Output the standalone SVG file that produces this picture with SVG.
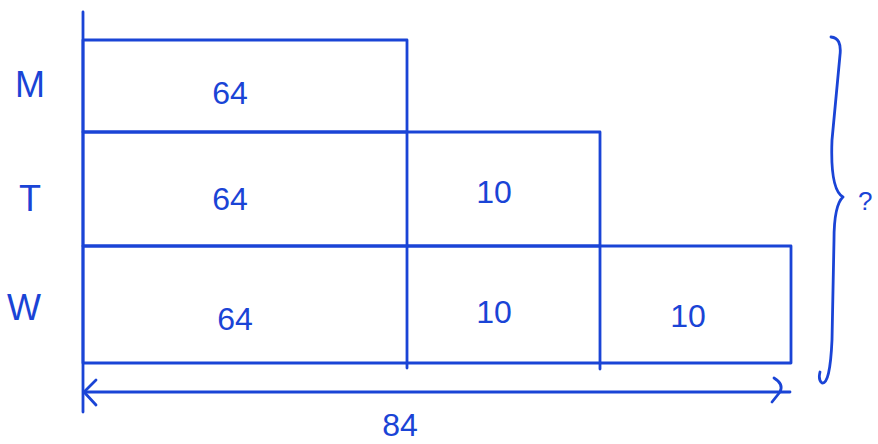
<svg xmlns="http://www.w3.org/2000/svg" width="878" height="444" viewBox="0 0 878 444">
<style>
.s{fill:none;stroke:#1a44d6;stroke-width:2.8;stroke-linecap:round;stroke-linejoin:round}
.t{font-family:"Liberation Sans",Arial,sans-serif;font-size:32px;fill:#1a44d6;text-anchor:middle}
.l{font-size:36px}
</style>
<rect width="878" height="444" fill="#fff"/>
<g id="axis"><line class="s" x1="83" y1="12" x2="83" y2="412"/></g>
<g id="row-M">
<rect class="s" x="83" y="40" width="324" height="92"/>
<text class="t l" x="30" y="97">M</text>
<text class="t" x="230" y="104">64</text>
</g>
<g id="row-T">
<rect class="s" x="83" y="132" width="517" height="114"/>
<line class="s" x1="407" y1="132" x2="407" y2="246"/>
<text class="t l" x="30" y="211">T</text>
<text class="t" x="230" y="210">64</text>
<text class="t" x="494" y="203">10</text>
</g>
<g id="row-W">
<rect class="s" x="83" y="246" width="708" height="117"/>
<line class="s" x1="407" y1="246" x2="407" y2="368"/>
<line class="s" x1="600" y1="246" x2="600" y2="369"/>
<text class="t l" x="24" y="320">W</text>
<text class="t" x="235" y="330">64</text>
<text class="t" x="494" y="323">10</text>
<text class="t" x="688" y="327">10</text>
</g>
<g id="connectors">
<line class="s" x1="84" y1="392" x2="790" y2="392"/>
<path class="s" d="M96,380 L84,392 L96,405"/>
<path class="s" d="M774,378 Q784,384 780,392 L772,402"/>
<path class="s" d="M831,37 Q842,38 840,55 L832,140 Q830,190 843,197 Q834,205 834,240 L832,340 Q830,385 822,383 Q818,380 820,372"/>
</g>
<g id="labels">
<text class="t" x="400" y="436">84</text>
<text class="t" x="858" y="210" style="text-anchor:start;font-size:26px">?</text>
</g>
</svg>
